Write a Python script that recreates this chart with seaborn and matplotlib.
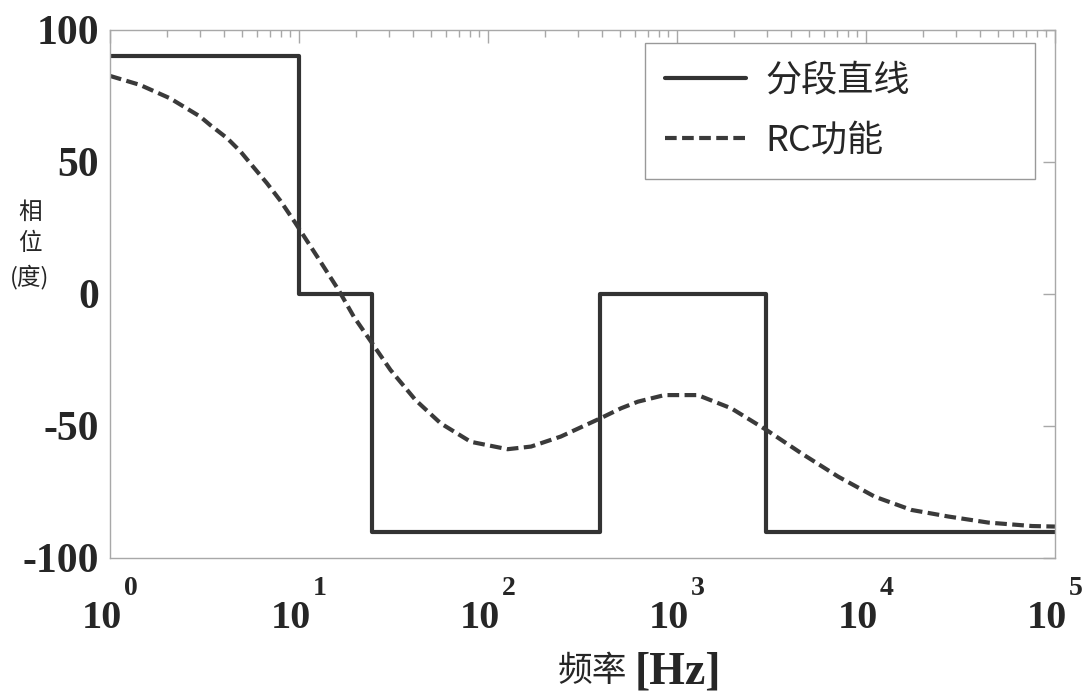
import matplotlib
matplotlib.use("Agg")
import matplotlib.pyplot as plt
import matplotlib.ticker as ticker
import numpy as np
import seaborn as sns

# piecewise straight-line approximation (breakpoints, level held until next breakpoint)
step_freq = [1, 10, 24.3, 392, 2960, 100000]
step_phase = [90, 0, -90, 0, -90, -90]

# RC function phase
rc_freq = [1, 1.44, 2.08, 3.0, 3.39, 4.17, 4.9, 5.75, 6.76, 7.94, 9.55, 12.5,
           16.2, 19.5, 24.4, 30.5, 41.4, 56.2, 81.1, 127, 169, 243, 396, 506,
           621, 859, 1288, 1936, 2972, 4560, 7129, 11143, 17378, 27290, 44463,
           75509, 100000]
rc_phase = [82.6, 79.2, 74.1, 67.2, 64.0, 59.0, 54.0, 48.0, 42.0, 35.5, 27.0, 14.1,
            1.5, -8.6, -18.7, -28.8, -40.2, -49.0, -56.0, -58.8, -57.8, -54.0, -47.0, -43.3,
            -40.8, -38.3, -38.3, -43.3, -51.5, -60.4, -69.2, -76.8, -81.8, -84.3, -86.6,
            -87.9, -88.1]

y_ticks = [-100, -50, 0, 50, 100]

sns.set_style("white")
plt.rcParams['font.family'] = ['Noto Sans CJK SC', 'DejaVu Sans']
plt.rcParams['axes.unicode_minus'] = False

line_color = '#333333'
axis_color = '#a8a8a8'

fig = plt.figure(figsize=(10.92, 7), dpi=100)
ax = fig.add_axes([0.1007, 0.2029, 0.8654, 0.7543])

sns.lineplot(x=step_freq, y=step_phase, drawstyle='steps-post', color=line_color,
             linewidth=3, label='分段直线', ax=ax)
sns.lineplot(x=rc_freq, y=rc_phase, color='#3a3a3a', linewidth=3,
             linestyle=(0, (2.8, 1.3)), label='RC功能', ax=ax)

ax.set_xscale('log')
ax.set_xlim(1, 1e5)
ax.set_ylim(-100, 100)
ax.set_xlabel('')
ax.set_ylabel('')

ax.xaxis.set_major_locator(ticker.LogLocator(base=10, numticks=10))
ax.xaxis.set_minor_locator(ticker.LogLocator(base=10, subs=np.arange(2, 10), numticks=20))
ax.xaxis.set_major_formatter(ticker.NullFormatter())
ax.xaxis.set_minor_formatter(ticker.NullFormatter())
ax.set_yticks(y_ticks)
ax.set_yticklabels([str(t) for t in y_ticks])

ax.tick_params(which='both', direction='in', top=True, right=True,
               color=axis_color, width=1)
ax.tick_params(which='major', length=9)
ax.tick_params(which='minor', length=5)
ax.tick_params(axis='y', pad=8)
for lab in ax.get_yticklabels():
    lab.set_fontfamily('Liberation Serif')
    lab.set_fontweight('bold')
    lab.set_fontsize(30)

# x tick labels "10" with a raised exponent, like the original
for v in ax.get_xticks():
    if v < 1 or v > 1e5:
        continue
    ax.annotate('10', xy=(v, 0), xycoords=('data', 'axes fraction'),
                xytext=(-6, -50.5), textcoords='offset points', ha='center',
                va='baseline', fontsize=29, family='Liberation Serif',
                weight='bold', annotation_clip=False)
    ax.annotate(str(int(round(np.log10(v)))), xy=(v, 0),
                xycoords=('data', 'axes fraction'), xytext=(10, -26.5),
                textcoords='offset points', ha='left', va='baseline', fontsize=20,
                family='Liberation Serif', weight='bold', annotation_clip=False)

for s in ax.spines.values():
    s.set_color(axis_color)
    s.set_linewidth(1)

# axis titles
fig.text(30 / 1092, 1 - 245 / 700, '相\n位\n(度)', ha='center', va='center',
         fontsize=17, linespacing=1.45)
fig.text(627 / 1092, 1 - 672 / 700, '频率', ha='right', va='center', fontsize=25)
fig.text(635 / 1092, 1 - 673 / 700, '[Hz]', ha='left', va='center', fontsize=33,
         family='Liberation Serif', weight='bold')

leg = ax.legend(loc='upper left', bbox_to_anchor=(0.566, 0.716, 0.413, 0.259),
                mode='expand', fontsize=26, handlelength=2.25, frameon=True,
                fancybox=False, edgecolor='#999999', framealpha=1,
                borderpad=0.55, labelspacing=0.66, handletextpad=0.53, borderaxespad=0)
leg.get_frame().set_linewidth(1)

plt.savefig('out.png', dpi=100)
plt.close(fig)
